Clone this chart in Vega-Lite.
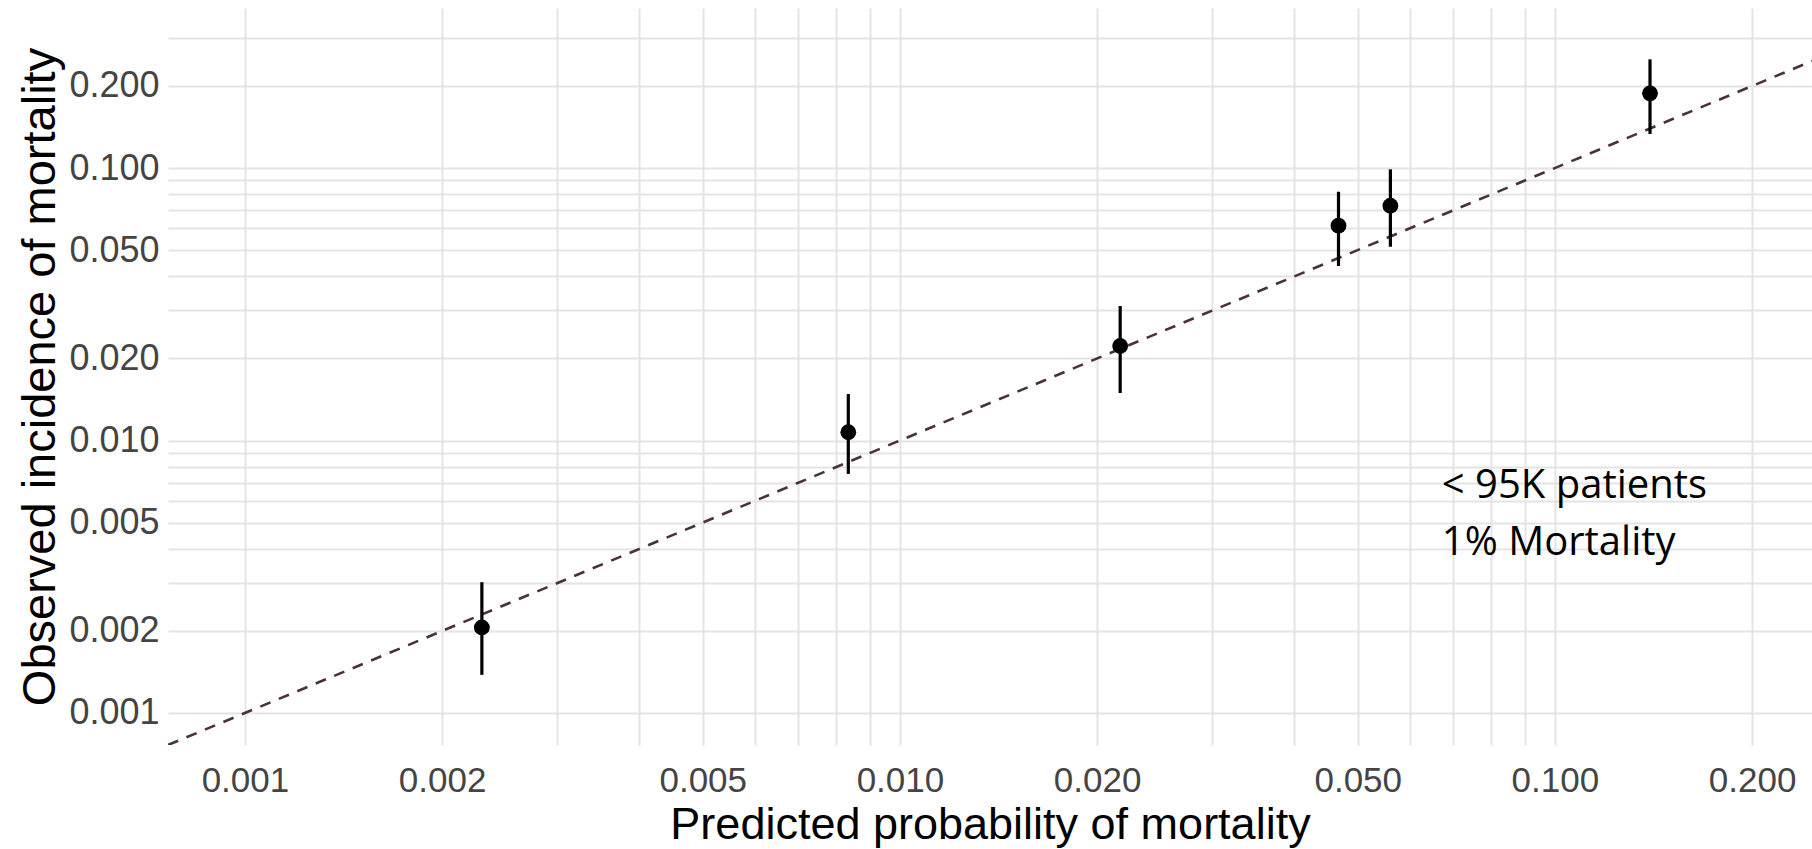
{
  "$schema": "https://vega.github.io/schema/vega-lite/v6.json",
  "width": 1644,
  "height": 737,
  "autosize": {"type": "none"},
  "padding": {"left": 168, "top": 8, "right": 0, "bottom": 104},
  "background": "white",
  "config": {"view": {"stroke": null}},
  "datasets": {
    "points": [
      {"pred": 0.00230, "obs": 0.00206, "lo": 0.00138, "hi": 0.00302},
      {"pred": 0.00834, "obs": 0.01072, "lo": 0.00754, "hi": 0.01481},
      {"pred": 0.02169, "obs": 0.02222, "lo": 0.01494, "hi": 0.03115},
      {"pred": 0.04673, "obs": 0.06142, "lo": 0.04370, "hi": 0.08185},
      {"pred": 0.05608, "obs": 0.07271, "lo": 0.05143, "hi": 0.09890},
      {"pred": 0.1397, "obs": 0.1880, "lo": 0.1333, "hi": 0.2505}
    ],
    "ref": [
      {"pred": 0.000763, "obs": 0.000763},
      {"pred": 0.2469, "obs": 0.2469}
    ],
    "note": [
      {"pred": 0.0672, "obs": 0.00615, "label": "< 95K patients"},
      {"pred": 0.0672, "obs": 0.0038, "label": "1% Mortality"}
    ]
  },
  "encoding": {
    "x": {
      "field": "pred", "type": "quantitative",
      "scale": {"type": "log", "domain": [0.000763, 0.2469], "nice": false},
      "axis": {
        "title": "Predicted probability of mortality",
        "values": [0.001, 0.002, 0.003, 0.004, 0.005, 0.006, 0.007, 0.008, 0.009, 0.01, 0.02, 0.03, 0.04, 0.05, 0.06, 0.07, 0.08, 0.09, 0.1, 0.2],
        "labelExpr": "indexof([0.001, 0.002, 0.005, 0.01, 0.02, 0.05, 0.1, 0.2], datum.value) >= 0 ? format(datum.value, '.3f') : ''",
        "grid": true, "gridColor": "#e4e4e4", "gridWidth": 2,
        "ticks": false, "domain": false,
        "labelFont": "Liberation Sans", "labelFontSize": 35, "labelColor": "#444444",
        "labelPadding": 18, "labelFlush": false, "labelOverlap": false,
        "titleFont": "Liberation Sans", "titleFontSize": 45, "titleColor": "#000000",
        "titleFontWeight": "normal", "titleBaseline": "alphabetic", "titleY": 93
      }
    },
    "y": {
      "field": "obs", "type": "quantitative",
      "scale": {"type": "log", "domain": [0.000763, 0.3866], "nice": false},
      "axis": {
        "title": "Observed incidence of mortality",
        "values": [0.001, 0.002, 0.003, 0.004, 0.005, 0.006, 0.007, 0.008, 0.009, 0.01, 0.02, 0.03, 0.04, 0.05, 0.06, 0.07, 0.08, 0.09, 0.1, 0.2, 0.3],
        "labelExpr": "indexof([0.001, 0.002, 0.005, 0.01, 0.02, 0.05, 0.1, 0.2], datum.value) >= 0 ? format(datum.value, '.3f') : ''",
        "grid": true, "gridColor": "#e4e4e4", "gridWidth": 2,
        "ticks": false, "domain": false,
        "labelFont": "Liberation Sans", "labelFontSize": 36, "labelColor": "#444444",
        "labelPadding": 9, "labelFlush": false, "labelOverlap": false, "labelBaseline": "middle",
        "titleFont": "Liberation Sans", "titleFontSize": 47, "titleColor": "#000000",
        "titleFontWeight": "normal", "titleBaseline": "alphabetic", "titleX": -114
      }
    }
  },
  "layer": [
    {
      "data": {"name": "ref"},
      "mark": {"type": "line", "color": "#4a3333", "strokeWidth": 2.6, "strokeDash": [11, 9], "clip": true}
    },
    {
      "data": {"name": "points"},
      "mark": {"type": "rule", "color": "#000000", "strokeWidth": 3.2},
      "encoding": {
        "y": {
          "field": "lo", "type": "quantitative",
          "scale": {"type": "log", "domain": [0.000763, 0.3866], "nice": false},
          "axis": {
            "title": "Observed incidence of mortality",
            "values": [0.001, 0.002, 0.003, 0.004, 0.005, 0.006, 0.007, 0.008, 0.009, 0.01, 0.02, 0.03, 0.04, 0.05, 0.06, 0.07, 0.08, 0.09, 0.1, 0.2, 0.3],
            "labelExpr": "indexof([0.001, 0.002, 0.005, 0.01, 0.02, 0.05, 0.1, 0.2], datum.value) >= 0 ? format(datum.value, '.3f') : ''",
            "grid": true, "gridColor": "#e4e4e4", "gridWidth": 2,
            "ticks": false, "domain": false,
            "labelFont": "Liberation Sans", "labelFontSize": 36, "labelColor": "#444444",
            "labelPadding": 9, "labelFlush": false, "labelOverlap": false, "labelBaseline": "middle",
            "titleFont": "Liberation Sans", "titleFontSize": 47, "titleColor": "#000000",
            "titleFontWeight": "normal", "titleBaseline": "alphabetic", "titleX": -114
          }
        },
        "y2": {"field": "hi"}
      }
    },
    {
      "data": {"name": "points"},
      "mark": {"type": "point", "shape": "circle", "filled": true, "size": 250, "color": "#000000", "opacity": 1}
    },
    {
      "data": {"name": "note"},
      "mark": {"type": "text", "font": "Open Sans", "fontSize": 40, "color": "#000000", "align": "left", "baseline": "alphabetic"},
      "encoding": {
        "text": {"field": "label", "type": "nominal"}
      }
    }
  ]
}
